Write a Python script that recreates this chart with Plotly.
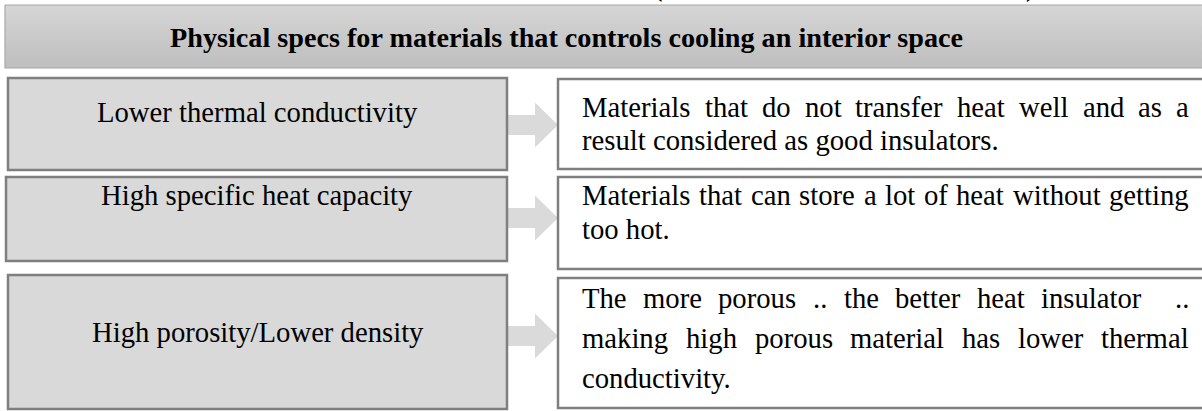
import plotly.graph_objects as go

# ---------------- content ----------------
title = "Physical specs for materials that controls cooling an interior space"
properties = [
    "Lower thermal conductivity",
    "High specific heat capacity",
    "High porosity/Lower density",
]
descriptions = [
    ["Materials that do not transfer heat well and as a",
     "result considered as good insulators."],
    ["Materials that can store a lot of heat without getting",
     "too hot."],
    ["The more porous .. the better heat insulator  ..",
     "making high porous material has lower thermal",
     "conductivity."],
]
justified = [[True, False], [True, False], [True, True, False]]

# ---------------- layout geometry (pixels) ----------------
W, H = 1202, 411
FONT = "Liberation Serif, Times New Roman, serif"
FS = 28.7
FS_TITLE = 28.2
header = dict(x0=5, x1=1215, y0=5, y1=68)
left_x0 = [8, 6, 8]
left_x1 = 507
left_y = [(78, 170), (177, 261), (275, 409)]
right_x = (558, 1215)
right_y = [(79, 169), (177, 269), (278, 408)]
arrow_cy = [125, 218, 336]
left_text_cy = [112, 195, 332]
right_first_cy = [107, 195, 298]
line_gaps = [33, 34, 40]
text_x0, text_x1 = 580, 1187

# Times/Liberation Serif advance widths (1/1000 em)
TW = {' ': 250, '.': 250, '/': 278,
      'a': 444, 'b': 500, 'c': 444, 'd': 500, 'e': 444, 'f': 333, 'g': 500,
      'h': 500, 'i': 278, 'j': 278, 'k': 500, 'l': 278, 'm': 778, 'n': 500,
      'o': 500, 'p': 500, 'q': 500, 'r': 333, 's': 389, 't': 278, 'u': 500,
      'v': 500, 'w': 722, 'x': 500, 'y': 500, 'z': 444,
      'H': 722, 'L': 611, 'M': 889, 'T': 611, 'P': 556}


def tw(s, fs=FS):
    return sum(TW.get(c, 500) for c in s) * fs / 1000.0


fig = go.Figure()

# header with vertical gradient
fig.add_trace(go.Scatter(
    x=[header["x0"], header["x1"], header["x1"], header["x0"], header["x0"]],
    y=[header["y0"], header["y0"], header["y1"], header["y1"], header["y0"]],
    mode="lines", fill="toself",
    line=dict(color="#a8a8a8", width=1.2),
    fillgradient=dict(type="vertical",
                      colorscale=[[0, "#d6d6d6"], [1, "#bebebe"]],
                      start=header["y0"], stop=header["y1"]),
    hoverinfo="skip", showlegend=False))

shapes = []
annotations = []

# title
annotations.append(dict(x=566, y=(header["y0"] + header["y1"]) / 2 + 1,
                        xref="x", yref="y", text="<b>%s</b>" % title,
                        showarrow=False, xanchor="center", yanchor="middle",
                        font=dict(family=FONT, size=FS_TITLE, color="#000")))
# clipped parentheses of the line above (only their lower tips show)
for px, ch in [(657, "("), (1030, ")")]:
    annotations.append(dict(x=px, y=4, xref="x", yref="y", text="<b>%s</b>" % ch,
                            showarrow=False, xanchor="center", yanchor="bottom",
                            font=dict(family=FONT, size=FS_TITLE, color="#000")))

for i, prop in enumerate(properties):
    ly0, ly1 = left_y[i]
    ry0, ry1 = right_y[i]
    cy = arrow_cy[i]
    # arrow
    xa, xb, xt = left_x1, 535, right_x[0]
    path = (f"M {xa},{cy-10} L {xb},{cy-10} L {xb},{cy-22.5} L {xt},{cy} "
            f"L {xb},{cy+22.5} L {xb},{cy+10} L {xa},{cy+10} Z")
    shapes.append(dict(type="path", path=path, xref="x", yref="y",
                       fillcolor="#dadada", line=dict(width=0), layer="above"))
    # left box
    shapes.append(dict(type="rect", x0=left_x0[i], x1=left_x1, y0=ly0, y1=ly1,
                       xref="x", yref="y", fillcolor="#d9d9d9",
                       line=dict(color="#7f7f7f", width=2.5), layer="above"))
    # right box
    shapes.append(dict(type="rect", x0=right_x[0], x1=right_x[1], y0=ry0, y1=ry1,
                       xref="x", yref="y", fillcolor="#ffffff",
                       line=dict(color="#7f7f7f", width=2.5), layer="above"))
    # left text
    annotations.append(dict(x=(left_x0[i] + left_x1) / 2, y=left_text_cy[i],
                            xref="x", yref="y", text=prop, showarrow=False,
                            xanchor="center", yanchor="middle",
                            font=dict(family=FONT, size=FS, color="#000")))
    # right text (justified lines placed word by word)
    for j, line in enumerate(descriptions[i]):
        ly = right_first_cy[i] + j * line_gaps[i]
        if justified[i][j]:
            words = line.split(" ")
            total = sum(tw(w) for w in words)
            gap = (text_x1 - text_x0 - total) / (len(words) - 1)
            x = text_x0
            for w in words:
                if w:
                    annotations.append(dict(x=x, y=ly, xref="x", yref="y", text=w,
                                            showarrow=False, xanchor="left",
                                            yanchor="middle",
                                            font=dict(family=FONT, size=FS, color="#000")))
                x += tw(w) + gap
        else:
            annotations.append(dict(x=text_x0, y=ly, xref="x", yref="y", text=line,
                                    showarrow=False, xanchor="left", yanchor="middle",
                                    font=dict(family=FONT, size=FS, color="#000")))

fig.update_layout(
    width=W, height=H, margin=dict(l=0, r=0, t=0, b=0),
    paper_bgcolor="white", plot_bgcolor="white",
    xaxis=dict(range=[0, W], visible=False, fixedrange=True),
    yaxis=dict(range=[H, 0], visible=False, fixedrange=True),
    shapes=shapes, annotations=annotations, hovermode=False, showlegend=False,
)

fig.write_html("out.html", config={"displayModeBar": False},
               post_script="document.body.style.margin='0';document.body.style.overflow='hidden';")
